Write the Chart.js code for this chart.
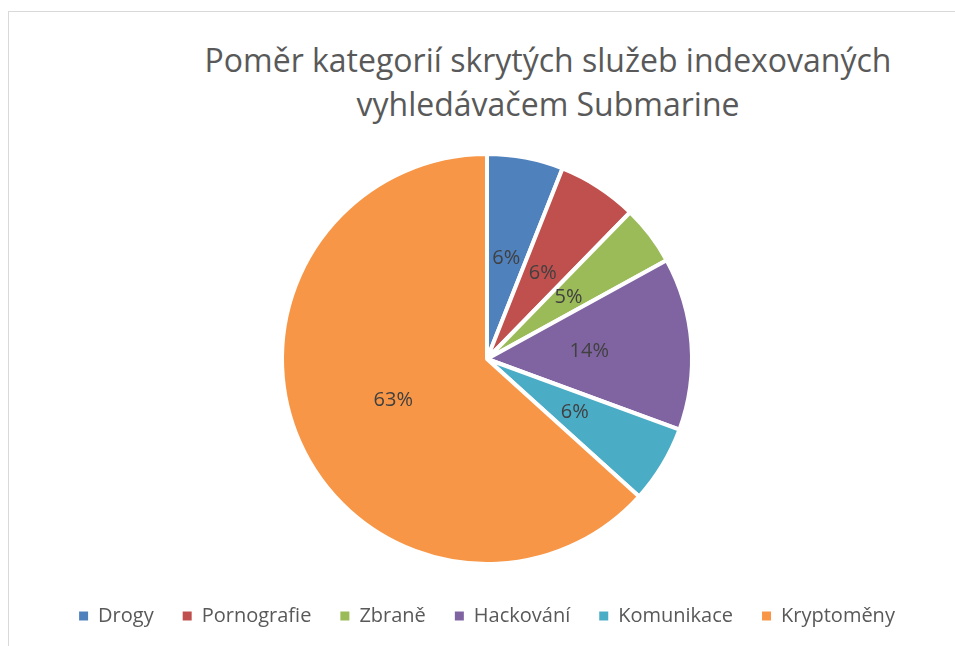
<html>
<head>
    <title>Submarine - kategorie</title>
    <script src="https://cdn.jsdelivr.net/npm/chart.js@4.4.0/dist/chart.umd.min.js"></script>
    <style>
        body { margin: 0; overflow: hidden; background: #fff; }
        #frame { position: absolute; left: 8px; top: 11px; width: 1100px; height: 800px;
                 border-top: 1px solid #d9d9d9; border-left: 1px solid #d9d9d9; }
        #title { position: absolute; left: 98px; width: 900px; top: 38px; text-align: center;
                 font-family: "Open Sans", sans-serif; font-size: 32px; line-height: 44px; color: #595959; }
        #wrap { position: absolute; left: 0; top: 0; }
    </style>
</head>
<body>
<div id="frame"></div>
<div id="title">Poměr kategorií skrytých služeb indexovaných<br>vyhledávačem Submarine</div>
<div id="wrap"><canvas id="pieChart" width="974" height="646"></canvas></div>

<script>
  // podíly kategorií (v %)
  const categories = ['Drogy', 'Pornografie', 'Zbraně', 'Hackování', 'Komunikace', 'Kryptoměny']
  const shares = [6.0, 6.3, 4.7, 13.6, 6.1, 63.3]
  const colors = ['#4F81BD', '#C0504D', '#9BBB59', '#8064A2', '#4BACC6', '#F79646']

  // popisky procent uvnitř výsečí
  const pctLabels = {
    id: 'pctLabels',
    afterDatasetsDraw(chart) {
      let ctx = chart.ctx
      let data = chart.data.datasets[0].data
      let total = data.reduce((a, b) => a + b, 0)
      ctx.save()
      ctx.font = '20px "Open Sans", sans-serif'
      ctx.fillStyle = '#404040'
      ctx.textAlign = 'center'
      ctx.textBaseline = 'middle'
      chart.getDatasetMeta(0).data.forEach((arc, i) => {
        let p = arc.tooltipPosition()
        ctx.fillText(Math.round(data[i] / total * 100) + '%', p.x, p.y)
      })
      ctx.restore()
    }
  }

  new Chart(document.getElementById('pieChart'), {
    type: 'pie',
    data: {
      labels: categories,
      datasets: [{
        data: shares,
        backgroundColor: colors,
        borderColor: '#ffffff',
        borderWidth: 4,
        radius: 205
      }]
    },
    options: {
      responsive: false,
      animation: false,
      layout: { padding: { top: 141, bottom: 10 } },
      plugins: {
        tooltip: { enabled: false },
        legend: {
          position: 'bottom',
          labels: {
            boxWidth: 9,
            boxHeight: 9,
            padding: 29,
            color: '#595959',
            font: { family: '"Open Sans", sans-serif', size: 20 },
            generateLabels(chart) {
              // ctverecky bez bileho okraje
              return Chart.controllers.pie.overrides.plugins.legend.labels.generateLabels(chart)
                .map(item => Object.assign(item, { lineWidth: 0, strokeStyle: item.fillStyle }))
            }
          }
        }
      }
    },
    plugins: [pctLabels]
  })
</script>
</body>
</html>
